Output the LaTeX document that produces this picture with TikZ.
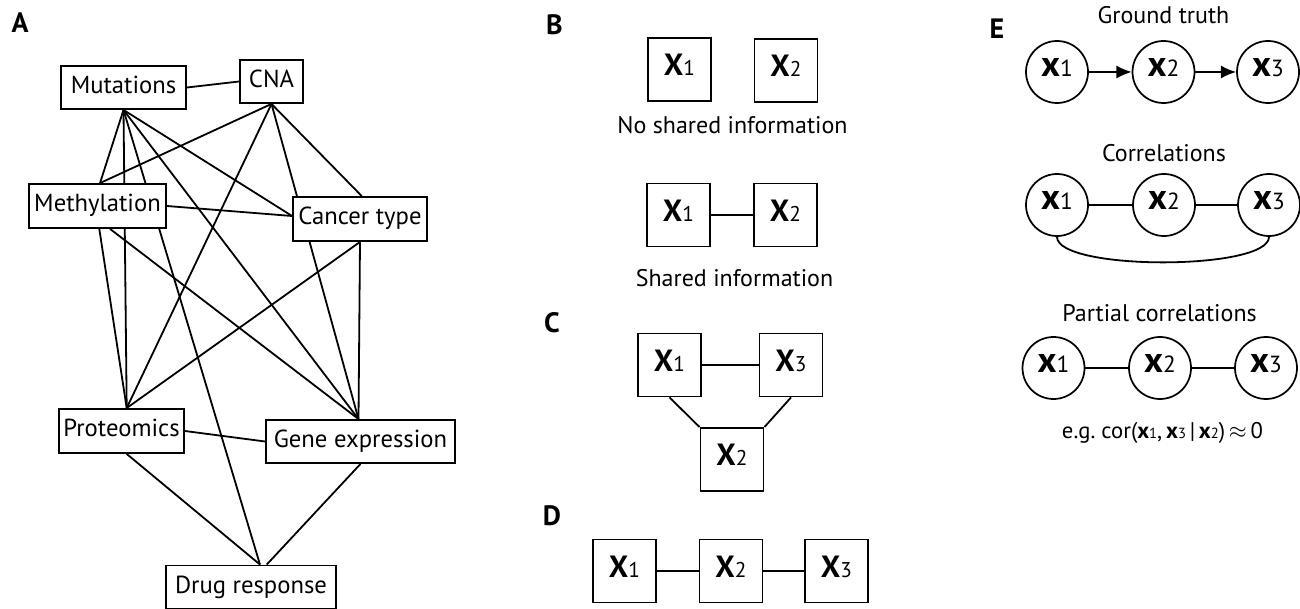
\documentclass[tikz,border=0pt]{standalone}
\usepackage{fontspec}
\setmainfont{PT Sans}
\usetikzlibrary{arrows.meta,calc}
\pgfdeclarelayer{bg}
\pgfsetlayers{bg,main}
\frenchspacing
\newcommand\bigX[1]{\textbf{X}{\fontsize{16}{17}\selectfont #1}}
\newcommand\cx[1]{\textbf{x}{\fontsize{17.5}{18}\selectfont #1}}
\newcommand\sx[1]{\textbf{x}{\fontsize{11}{12}\selectfont #1}}
\tikzset{
  lbl/.style={font=\fontsize{21}{22}\selectfont\bfseries, anchor=base, inner sep=0pt},
  abox/.style 2 args={draw, line width=1.4pt, fill=white, inner sep=0pt,
    minimum width=#1*0.75pt, minimum height=#2*0.75pt,
    font=\fontsize{18.5}{20}\selectfont, text height=0.9em, text depth=0pt},
  xbox/.style={draw, line width=1.4pt, fill=white, inner sep=0pt,
    minimum size=63*0.75pt, font=\fontsize{23}{24}\selectfont,
    text height=0.96em, text depth=0pt},
  xcirc/.style={draw, circle, line width=1.3pt, fill=white, inner sep=0pt,
    minimum size=62*0.75pt, font=\fontsize{27}{28}\selectfont,
    text height=0.66em, text depth=0pt},
  title/.style={font=\fontsize{18}{20}\selectfont, anchor=base, inner sep=0pt},
  conn/.style={line width=1.35pt},
  arr/.style={line width=1.35pt, -{Latex[length=11.5pt,width=10pt]}},
}
\begin{document}
\begin{tikzpicture}[x=0.75pt,y=-0.75pt]
\useasboundingbox (0,0) rectangle (1300,609);
% ---------- Panel A ----------
\node[lbl] (lA) at (20,33) {A};
\node[abox={125}{43}] (mut) at (123.5,87.5) {Mutations};
\node[abox={63}{43}] (cna) at (271.5,81.5) {CNA};
\node[abox={137}{44}] (meth) at (97.5,206) {Methylation};
\node[abox={134}{44}] (canc) at (360,219) {Cancer type};
\node[abox={125}{44}] (prot) at (121.5,431) {Proteomics};
\node[abox={189}{43}] (gene) at (360.5,441.5) {Gene expression};
\node[abox={170}{43}] (drug) at (251,587) {Drug response};
\begin{pgfonlayer}{bg}
\draw[conn] (mut.east) -- (cna.west);
\draw[conn] (mut.south) -- ([xshift=1.9pt]meth.north);
\draw[conn] (mut.south) -- ([xshift=3.9pt]prot.north);
\draw[conn] (mut.south) -- ([xshift=6.75pt]drug.north);
\draw[conn] (mut.south) -- ([xshift=-1.5pt]gene.north);
\draw[conn] (mut.south) -- ([yshift=2.25pt]canc.west);
\draw[conn] (cna.south) -- ([xshift=1.9pt]meth.north);
\draw[conn] (cna.south) -- ([xshift=3.9pt]prot.north);
\draw[conn] (cna.south) -- ([xshift=1.3pt]canc.north);
\draw[conn] (cna.south) -- ([xshift=-1.5pt]gene.north);
\draw[conn] (meth.east) -- ([yshift=2.25pt]canc.west);
\draw[conn] ([xshift=1.35pt]meth.south) -- ([xshift=3.9pt]prot.north);
\draw[conn] ([xshift=9.4pt]meth.south) -- ([xshift=-1.5pt]gene.north);
\draw[conn] (canc.south) -- ([xshift=3.9pt]prot.north);
\draw[conn] (canc.south) -- ([xshift=-1.5pt]gene.north);
\draw[conn] (prot.east) -- (gene.west);
\draw[conn] ([xshift=3.9pt]prot.south) -- ([xshift=6.75pt]drug.north);
\draw[conn] (gene.south) -- ([xshift=11.8pt]drug.north);
\end{pgfonlayer}
% ---------- Panel B ----------
\node[lbl] (lB) at (554.5,35) {B};
\node[xbox] (b1) at (679.5,69.5) {\bigX{1}};
\node[xbox] (b2) at (786,70.5) {\bigX{2}};
\node[title] (bt1) at (732.5,134) {No shared information};
\node[xbox] (b3) at (678.5,215) {\bigX{1}};
\node[xbox] (b4) at (785.5,215) {\bigX{2}};
\node[title] (bt2) at (734.5,287) {Shared information};
\draw[conn] (b3.east) -- (b4.west);
% ---------- Panel C ----------
\node[lbl] (lC) at (552,333) {C};
\node[xbox] (c1) at (669.5,365) {\bigX{1}};
\node[xbox] (c3) at (791,365) {\bigX{3}};
\node[xbox] (c2) at (732,459.5) {\bigX{2}};
\draw[conn] (c1.east) -- (c3.west);
\draw[conn] (c1.south) -- (c2.north west);
\draw[conn] (c3.south) -- (c2.north east);
% ---------- Panel D ----------
\node[lbl] (lD) at (552,525) {D};
\node[xbox] (d1) at (624.5,571) {\bigX{1}};
\node[xbox] (d2) at (731,571) {\bigX{2}};
\node[xbox] (d3) at (836.5,571) {\bigX{3}};
\draw[conn] (d1.east) -- (d2.west);
\draw[conn] (d2.east) -- (d3.west);
% ---------- Panel E ----------
\node[lbl] (lE) at (997,39) {E};
\node[title] (et1) at (1163.5,24) {Ground truth};
\node[xcirc] (e1) at (1057,72) {\cx{1}};
\node[xcirc] (e2) at (1163.5,72) {\cx{2}};
\node[xcirc] (e3) at (1268,72) {\cx{3}};
\draw[arr] (e1.east) -- (e2.west);
\draw[arr] (e2.east) -- (e3.west);
\node[title] (et2) at (1164,162) {Correlations};
\node[xcirc] (f1) at (1057,205) {\cx{1}};
\node[xcirc] (f2) at (1164,205) {\cx{2}};
\node[xcirc] (f3) at (1269,205) {\cx{3}};
\draw[conn] (f1.east) -- (f2.west);
\draw[conn] (f2.east) -- (f3.west);
\draw[conn] (f1.south) .. controls +(0,34) and +(0,34) .. (f3.south);
\node[title] (et3) at (1159.5,322) {Partial correlations};
\node[xcirc] (g1) at (1053.5,368) {\cx{1}};
\node[xcirc] (g2) at (1160,368) {\cx{2}};
\node[xcirc] (g3) at (1266,368) {\cx{3}};
\draw[conn] (g1.east) -- (g2.west);
\draw[conn] (g2.east) -- (g3.west);
\node[title, font=\fontsize{17}{18}\selectfont] (et4) at (1162.5,439) {e.g. cor(\sx{1},\,\sx{3}\,|\,\sx{2})\,$\approx$\,0};
\end{tikzpicture}
\end{document}
